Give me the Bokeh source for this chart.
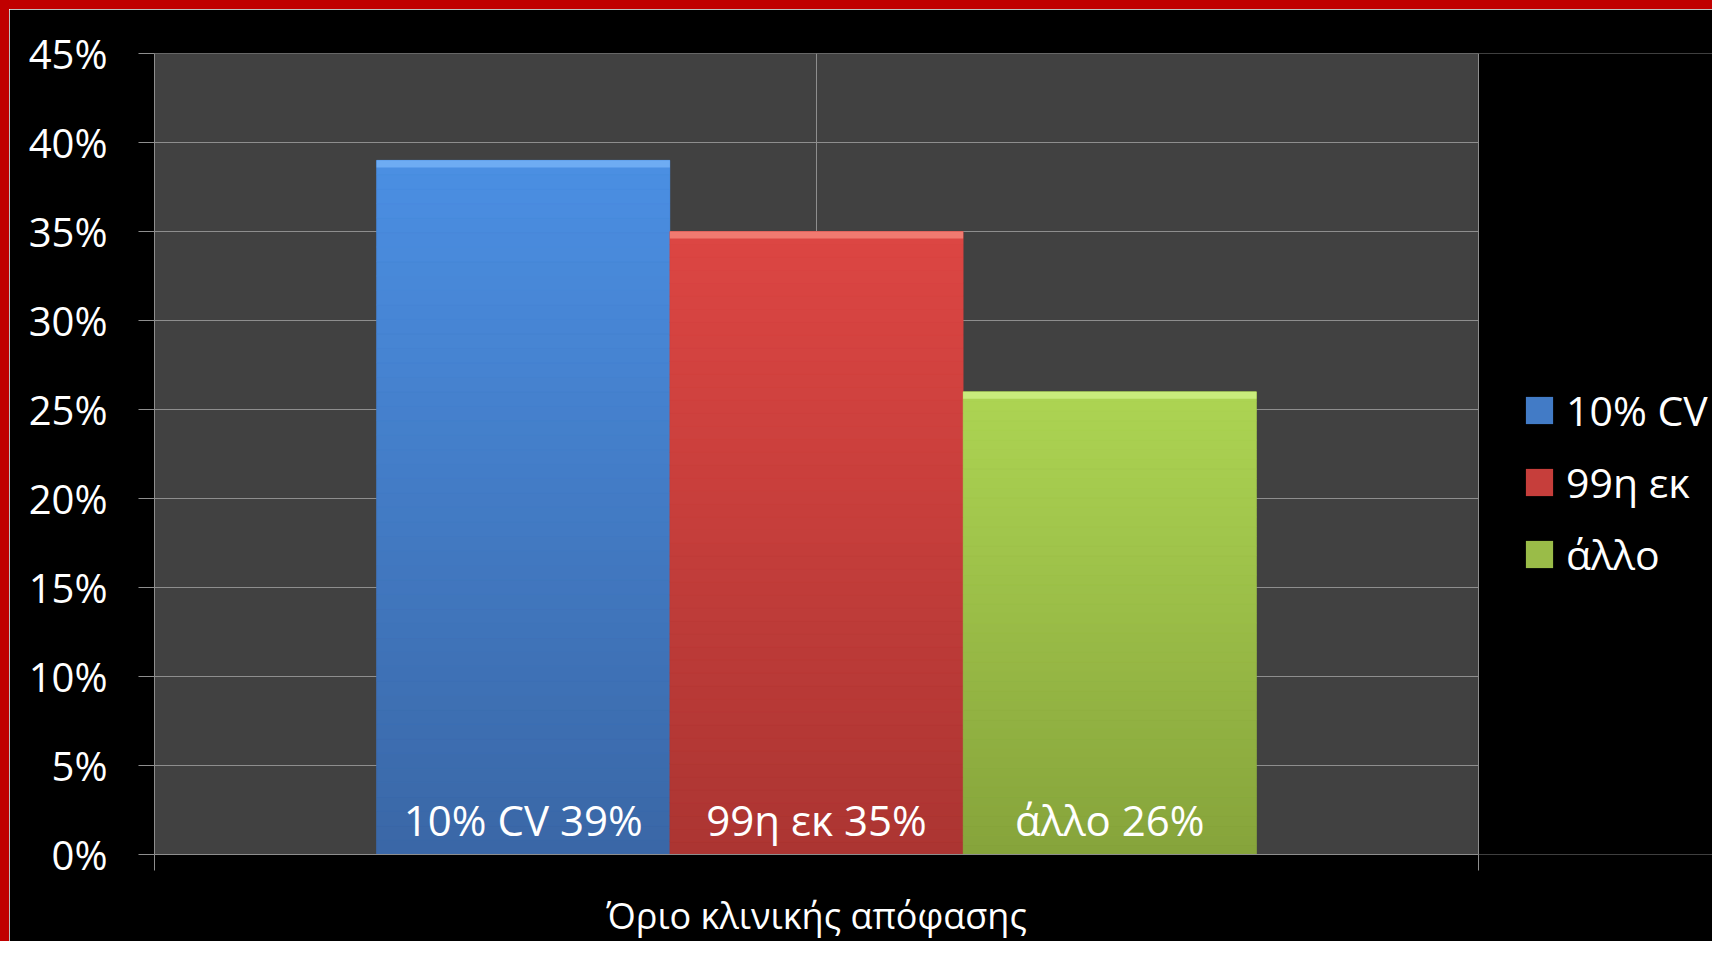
from bokeh.plotting import figure
from bokeh.models import FixedTicker, Legend, LegendItem, ColumnDataSource, Range1d
from bokeh.core.properties import value
from bokeh.embed import file_html
from bokeh.resources import INLINE

# ---- data ----
category = ["Όριο κλινικής απόφασης"]
series = ["10% CV", "99η εκ", "άλλο"]
values = [0.39, 0.35, 0.26]
y_ticks = [0, 0.05, 0.1, 0.15, 0.2, 0.25, 0.3, 0.35, 0.4, 0.45]
y_tick_labels = ["0%", "5%", "10%", "15%", "20%", "25%", "30%", "35%", "40%", "45%"]

# ---- styles ----
top_colors = ["#4b8fe3", "#dd4643", "#add553"]
bottom_colors = ["#3a67a6", "#ab3532", "#86a33b"]
mid_colors = ["#427bc6", "#c63e3b", "#9abc48"]
highlight_colors = ["#6eacf3", "#f17a70", "#c9ec7c"]
FONT = "Open Sans"
GRID = "#8e8e8e"
RED = "#c00000"
bar_w = 0.2215
BORDER = 9
LEFT = 154 - BORDER     # canvas px left of plot area
TOP = 53 - BORDER
AREA_W = 1324           # plot area width (px)
AREA_H = 801

def hex2rgb(h):
    h = h.lstrip("#")
    return tuple(int(h[i:i + 2], 16) for i in (0, 2, 4))

def lerp(c1, c2, t):
    a, b = hex2rgb(c1), hex2rgb(c2)
    return "#%02x%02x%02x" % tuple(int(round(a[i] + (b[i] - a[i]) * t)) for i in range(3))

W, H = 1712, 941
x_end = (W - LEFT) / AREA_W
p = figure(width=W, height=H, x_range=Range1d(0, x_end), y_range=Range1d(0, 0.45),
           output_backend="svg", toolbar_location=None,
           min_border_left=LEFT, min_border_right=0,
           min_border_top=TOP, min_border_bottom=H - TOP - AREA_H,
           background_fill_color="black", border_fill_color="black", outline_line_color=None)
p.styles = {"border-top": f"{BORDER}px solid {RED}", "border-left": f"{BORDER}px solid {RED}"}

# plot-area background (category span 0..1)
p.quad(left=[0], right=[1], bottom=[y_ticks[0]], top=[y_ticks[-1]],
       fill_color="#414141", line_color=None, level="image")

# horizontal gridlines, limited to the plot area
p.segment(x0=[0] * len(y_ticks), x1=[1] * len(y_ticks), y0=y_ticks, y1=y_ticks,
          line_color=GRID, line_width=1.2, level="underlay")
p.ygrid.visible = False

xs = [0.5 + (i - 1) * bar_w for i in range(len(series))]

# base bars (also used for the legend)
renderers = []
for i, s in enumerate(series):
    r = p.vbar(x=[xs[i]], top=[values[i]], width=bar_w, fill_color=mid_colors[i], line_color=None)
    renderers.append(r)

# vertical gradient bands
N = 48
L, R, B, T, C = [], [], [], [], []
for i, v in enumerate(values):
    for k in range(N):
        L.append(xs[i] - bar_w / 2)
        R.append(xs[i] + bar_w / 2)
        B.append(v * k / N)
        T.append(v * (k + 1) / N)
        C.append(lerp(bottom_colors[i], top_colors[i], (k + 0.5) / N))
p.quad(source=ColumnDataSource(dict(left=L, right=R, bottom=B, top=T, color=C)),
       left="left", right="right", bottom="bottom", top="top",
       fill_color="color", line_color="color", line_width=0.5)

# top bevel highlight
hl = 0.004
p.quad(left=[x - bar_w / 2 for x in xs], right=[x + bar_w / 2 for x in xs],
       bottom=[v - hl for v in values], top=values,
       fill_color=highlight_colors, line_color=None)

# labels inside base
p.text(x=xs, y=[0] * len(xs), text=[f"{s} {round(v * 100)}%" for s, v in zip(series, values)],
       text_align="center", text_baseline="middle", y_offset=-35,
       text_color="white", text_font=value(FONT), text_font_size="42px")

# vertical gridlines
p.xgrid.ticker = FixedTicker(ticks=[0, 0.5, 1])
p.xgrid.grid_line_color = GRID
p.xgrid.grid_line_width = 1

# y axis
p.yaxis.ticker = FixedTicker(ticks=y_ticks)
p.yaxis.major_label_overrides = dict(zip(y_ticks, y_tick_labels))
p.yaxis.major_label_text_font = FONT
p.yaxis.major_label_text_font_size = "40px"
p.yaxis.major_label_text_color = "white"
p.yaxis.major_tick_out = 16
p.yaxis.major_tick_in = 0
p.yaxis.major_tick_line_color = GRID
p.yaxis.minor_tick_line_color = None
p.yaxis.axis_line_color = GRID
p.yaxis.major_label_standoff = 31

# x axis
p.xaxis.ticker = FixedTicker(ticks=[0.5], minor_ticks=[0, 1])
p.xaxis.bounds = (0, 1)
p.xaxis.major_label_overrides = {0.5: category[0]}
p.xaxis.major_label_text_font = FONT
p.xaxis.major_label_text_font_size = "36px"
p.xaxis.major_label_text_color = "white"
p.xaxis.major_tick_line_color = None
p.xaxis.major_tick_out = 0
p.xaxis.major_tick_in = 0
p.xaxis.minor_tick_out = 16
p.xaxis.minor_tick_in = 0
p.xaxis.minor_tick_line_color = GRID
p.xaxis.axis_line_color = GRID
p.xaxis.major_label_standoff = 20

legend = Legend(items=[LegendItem(label=s, renderers=[r]) for s, r in zip(series, renderers)],
                location=(1368, 272), background_fill_alpha=0, border_line_color=None,
                label_text_color="white", label_text_font=FONT, label_text_font_size="41px",
                glyph_width=34, glyph_height=34, label_standoff=10, spacing=16,
                padding=0, margin=0)
p.add_layout(legend, "center")

open("out.html", "w").write(file_html(p, INLINE))
